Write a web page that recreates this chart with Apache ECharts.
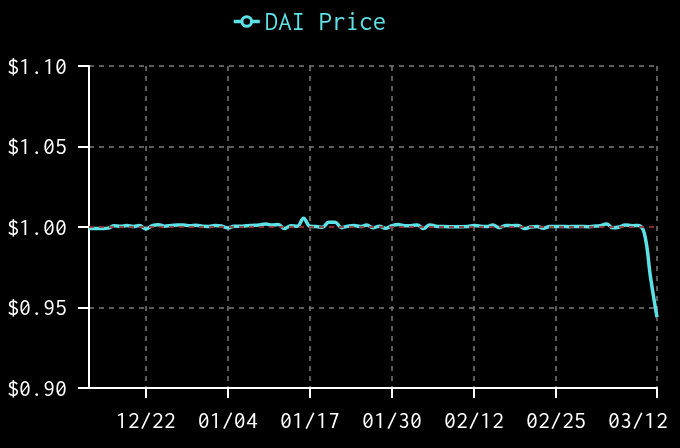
<!DOCTYPE html>
<html>
<head>
<meta charset="utf-8">
<script src="https://cdn.jsdelivr.net/npm/echarts@6/dist/echarts.min.js"></script>
<style>
html,body{margin:0;padding:0;background:#000;}
#chart{width:680px;height:448px;}
</style>
</head>
<body>
<div id="chart"></div>
<script>
const dates = [
 "12/13","12/14","12/15","12/16","12/17","12/18","12/19","12/20","12/21","12/22",
 "12/23","12/24","12/25","12/26","12/27","12/28","12/29","12/30","12/31",
 "01/01","01/02","01/03","01/04","01/05","01/06","01/07","01/08","01/09","01/10",
 "01/11","01/12","01/13","01/14","01/15","01/16","01/17","01/18","01/19","01/20",
 "01/21","01/22","01/23","01/24","01/25","01/26","01/27","01/28","01/29","01/30","01/31",
 "02/01","02/02","02/03","02/04","02/05","02/06","02/07","02/08","02/09","02/10",
 "02/11","02/12","02/13","02/14","02/15","02/16","02/17","02/18","02/19","02/20",
 "02/21","02/22","02/23","02/24","02/25","02/26","02/27","02/28",
 "03/01","03/02","03/03","03/04","03/05","03/06","03/07","03/08","03/09","03/10",
 "03/11","03/12","03/12"
];
const daiPrice = [
 0.9990,0.9990,0.9991,0.9993,1.0008,1.0004,1.0009,1.0003,1.0009,0.9988,
 1.0008,1.0014,1.0005,1.0010,1.0012,1.0012,1.0008,1.0011,1.0004,1.0003,
 1.0009,1.0006,0.9994,1.0005,1.0005,1.0008,1.0010,1.0013,1.0018,1.0012,
 1.0015,0.9990,1.0008,1.0005,1.0055,1.0005,1.0003,0.9998,1.0030,1.0030,
 0.9996,1.0005,1.0010,1.0003,1.0012,0.9995,1.0005,0.9992,1.0008,1.0015,
 1.0008,1.0008,1.0013,0.9990,1.0013,1.0005,1.0003,1.0002,1.0002,1.0002,
 1.0003,1.0010,1.0005,1.0003,1.0012,0.9995,1.0010,1.0008,1.0010,0.9990,
 1.0000,1.0003,0.9993,1.0003,1.0003,1.0003,1.0002,1.0003,1.0003,1.0002,
 1.0005,1.0008,1.0019,0.9995,1.0000,1.0013,1.0008,1.0010,0.9960,0.9680,
 0.9440
];
const labelIndices = [9, 22, 35, 48, 61, 74, 90];
const pegValue = 1.0;
const yMin = 0.90, yMax = 1.10, yStep = 0.05;

const lineColor = '#5ce1e6';
const font = 'Inconsolata';
const showAt = (i) => labelIndices.indexOf(i) >= 0;
const lastIndex = dates.length - 1;

const chart = echarts.init(document.getElementById('chart'));
chart.setOption({
  backgroundColor: '#000',
  animation: false,
  legend: {
    left: 227, top: 3,
    itemWidth: 26, itemHeight: 12,
    itemGap: 8,
    lineStyle: { width: 3.5 },
    itemStyle: { borderWidth: 3 },
    textStyle: { color: lineColor, fontFamily: font, fontSize: 27 },
    data: ['DAI Price']
  },
  grid: { left: 89, right: 23, top: 66, bottom: 60, outerBoundsMode: 'none' },
  xAxis: {
    type: 'category',
    data: dates,
    boundaryGap: false,
    axisLine: { lineStyle: { color: '#fff', width: 2 } },
    axisTick: { show: true, length: 10, interval: (i) => showAt(i), lineStyle: { color: '#fff', width: 2 } },
    axisLabel: {
      interval: (i) => showAt(i), color: '#fff', fontFamily: font, fontSize: 24, margin: 20,
      formatter: (v, i) => i === lastIndex ? '{t|' + v + '}{pad| }' : v,
      rich: {
        t: { color: '#fff', fontFamily: font, fontSize: 24 },
        pad: { width: 38, fontSize: 24 }
      }
    },
    splitLine: { show: true, interval: (i) => showAt(i), lineStyle: { color: '#7a7a7a', type: [5, 5], width: 1.5 } }
  },
  yAxis: {
    type: 'value',
    min: yMin, max: yMax, interval: yStep,
    axisLine: { show: true, lineStyle: { color: '#fff', width: 2 } },
    axisTick: { show: true, length: 11, lineStyle: { color: '#fff', width: 2 } },
    axisLabel: { color: '#fff', fontFamily: font, fontSize: 24, margin: 22,
      formatter: (v) => '$' + v.toFixed(2) },
    splitLine: { show: true, lineStyle: { color: '#7a7a7a', type: [5, 5], width: 1.5 } }
  },
  series: [{
    name: 'DAI Price',
    type: 'line',
    data: daiPrice,
    smooth: 0.4,
    symbol: 'circle',
    symbolSize: 10,
    showSymbol: false,
    itemStyle: { color: '#000', borderColor: lineColor, borderWidth: 3 },
    lineStyle: { color: lineColor, width: 3.5 },
    markLine: {
      silent: true,
      symbol: 'none',
      label: { show: false },
      lineStyle: { color: '#a01818', type: [5, 5], width: 1.5 },
      data: [{ yAxis: pegValue }]
    },
    z: 3
  }]
});
</script>
</body>
</html>
